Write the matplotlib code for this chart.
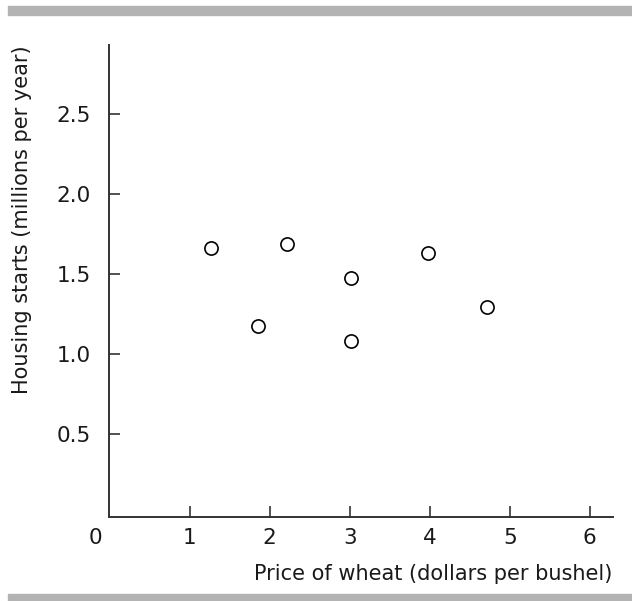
import matplotlib
matplotlib.use("Agg")
import matplotlib.pyplot as plt
from matplotlib.patches import Rectangle
from matplotlib.transforms import offset_copy

price_wheat = [1.27, 1.85, 2.22, 3.02, 3.02, 3.98, 4.72]
housing_starts = [1.66, 1.17, 1.685, 1.47, 1.08, 1.63, 1.29]
x_ticks = [1, 2, 3, 4, 5, 6]
y_ticks = [0.5, 1.0, 1.5, 2.0, 2.5]
y_tick_labels = ["0.5", "1.0", "1.5", "2.0", "2.5"]

plt.rcParams['font.family'] = ['DejaVu Sans']

fig = plt.figure(figsize=(6.32, 6.01), dpi=100)
W, H = 632, 601
grey = "#b3b3b3"
txt = "#1a1a1a"

# gray bars top and bottom
fig.patches.append(Rectangle((8 / W, 1 - 15 / H), 1 - 8 / W, 9 / H, transform=fig.transFigure,
                             color=grey, zorder=0))
fig.patches.append(Rectangle((8 / W, 0), 1 - 8 / W, 7 / H, transform=fig.transFigure,
                             color=grey, zorder=0))

ax = fig.add_axes([108.5 / W, (H - 517) / H, (613 - 108.5) / W, (517 - 45) / H])
ax.scatter(price_wheat, housing_starts, s=90, facecolors="white", edgecolors="black",
           linewidths=1.2, zorder=3)

ax.set_xlim(-0.0125, 6.29)
ax.set_ylim(-0.021, 2.929)
ax.set_xticks(x_ticks)
ax.set_xticklabels([str(t) for t in x_ticks])
ax.set_yticks(y_ticks)
ax.set_yticklabels(y_tick_labels)
for s in ["top", "right"]:
    ax.spines[s].set_visible(False)
for s in ["left", "bottom"]:
    ax.spines[s].set_color("#333333")
    ax.spines[s].set_linewidth(1.4)
ax.tick_params(direction="in", length=8, width=1.2, color="#333333",
               labelsize=15.5, labelcolor=txt)
ax.tick_params(axis="y", pad=13)
ax.tick_params(axis="x", pad=8)

zero_tr = offset_copy(ax.get_xaxis_transform(), fig=fig, y=-8, units="points")
ax.text(-0.17, 0, "0", transform=zero_tr, ha="center", va="top", fontsize=15.5, color=txt)

fig.text(612 / W, 1 - 580 / H, "Price of wheat (dollars per bushel)", ha="right", va="baseline",
         fontsize=15, color=txt)
fig.text(22 / W, 1 - 45 / H, "Housing starts (millions per year)", ha="center", va="top",
         rotation=90, fontsize=15, color=txt)

fig.savefig("out.png", dpi=100)
